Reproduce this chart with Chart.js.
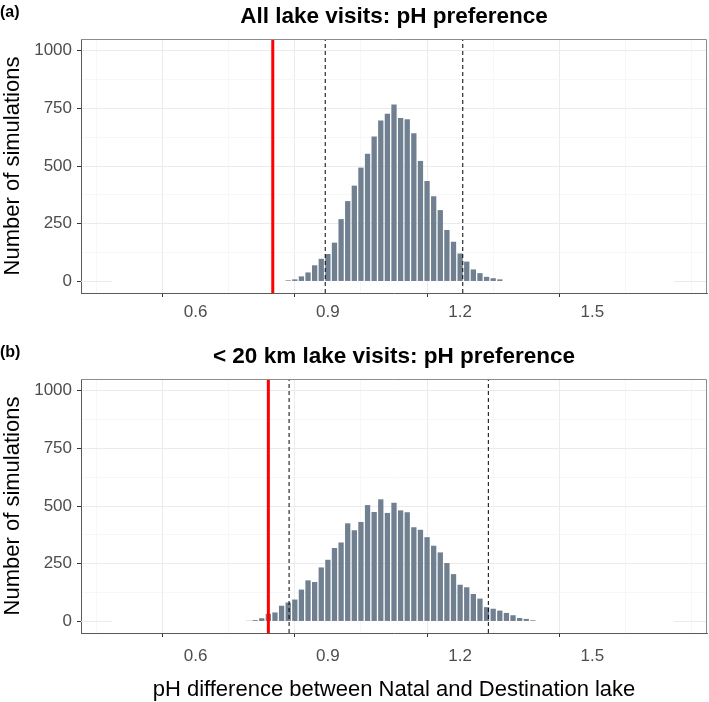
<!DOCTYPE html>
<html>
<head>
<meta charset="utf-8">
<script src="https://cdn.jsdelivr.net/npm/chart.js@4.4.1/dist/chart.umd.min.js"></script>
<style>
  html, body { margin: 0; padding: 0; background: #ffffff; }
  canvas { display: block; }
</style>
</head>
<body>
<canvas id="topChart" width="709" height="340"></canvas>
<canvas id="bottomChart" width="709" height="362"></canvas>
<script>
// ---------- data ----------
const panelTags = ['(a)', '(b)'];
const panelTitles = ['All lake visits: pH preference', '< 20 km lake visits: pH preference'];
const yAxisTitle = 'Number of simulations';
const xAxisTitle = 'pH difference between Natal and Destination lake';

// bin centres (bin width 0.015)
const topBins = [0.81,0.825,0.84,0.855,0.87,0.885,0.9,0.915,0.93,0.945,0.96,0.975,0.99,1.005,1.02,1.035,1.05,1.065,1.08,1.095,1.11,1.125,1.14,1.155,1.17,1.185,1.2,1.215,1.23,1.245,1.26,1.275,1.29];
const topCounts = [5,9,22,39,70,98,119,168,270,348,415,493,553,628,697,726,766,708,703,642,522,435,369,309,223,172,121,86,52,36,20,14,9];

const bottomBins = [0.72,0.735,0.75,0.765,0.78,0.795,0.81,0.825,0.84,0.855,0.87,0.885,0.9,0.915,0.93,0.945,0.96,0.975,0.99,1.005,1.02,1.035,1.05,1.065,1.08,1.095,1.11,1.125,1.14,1.155,1.17,1.185,1.2,1.215,1.23,1.245,1.26,1.275,1.29,1.305,1.32,1.335,1.35,1.365];
const bottomCounts = [3,6,14,33,39,68,82,95,138,178,171,234,267,318,342,425,395,431,504,474,529,470,514,481,473,408,397,365,328,299,253,205,159,148,119,99,62,55,47,37,27,15,11,5];

// observed value (red) and 95% interval (dashed)
const topObserved = 0.775;
const topInterval = [0.894, 1.206];
const bottomObserved = 0.765;
const bottomInterval = [0.812, 1.264];

// axes
const xMin = 0.34, xMax = 1.76;
const yMin = -50, yMax = 1050;
const xTickLabels = [0.6, 0.9, 1.2, 1.5];
const xMinorGrid = [0.45, 0.75, 1.05, 1.35, 1.65];
const yTickLabels = [0, 250, 500, 750, 1000];
const yMinorGrid = [125, 375, 625, 875];
// zero-count baseline visible only outside the (empty) bin range
const zeroLineLeft = [0.34, 0.41];
const zeroLineRight = [1.685, 1.76];

// ---------- chart ----------
const FONT = '"Liberation Sans", Arial, Helvetica, sans-serif';
Chart.defaults.font.family = FONT;

const isMajorX = v => xTickLabels.some(t => Math.abs(t - v) < 1e-9);
const isMajorY = v => yTickLabels.some(t => Math.abs(t - v) < 1e-9);

const deco = {
  id: 'deco',
  afterDraw(chart, args, o) {
    const { ctx, chartArea: a } = chart;
    ctx.save();
    // top / right panel border
    ctx.strokeStyle = '#8c8c8c';
    ctx.lineWidth = 1;
    ctx.beginPath();
    ctx.moveTo(a.left, a.top + 0.5);
    ctx.lineTo(a.right - 0.5, a.top + 0.5);
    ctx.lineTo(a.right - 0.5, a.bottom);
    ctx.stroke();
    ctx.fillStyle = '#000';
    // tag
    ctx.font = 'bold 16px ' + FONT;
    ctx.textAlign = 'left';
    ctx.textBaseline = 'alphabetic';
    ctx.fillText(o.tag, 0, 16.6);
    // title
    ctx.font = 'bold 22.5px ' + FONT;
    ctx.textAlign = 'center';
    ctx.fillText(o.title, (a.left + a.right) / 2, 23);
    // y title
    ctx.font = '22px ' + FONT;
    ctx.fillStyle = '#000';
    ctx.translate(18.5, (a.top + a.bottom) / 2);
    ctx.rotate(-Math.PI / 2);
    ctx.fillText(yAxisTitle, 0, 0);
    ctx.setTransform(1, 0, 0, 1, 0, 0);
    if (o.xTitle) {
      ctx.font = '22px ' + FONT;
      ctx.textAlign = 'center';
      ctx.fillText(o.xTitle, (a.left + a.right) / 2, 355.7);
    }
    ctx.restore();
  }
};

function vline(x, color, width, dash) {
  return {
    type: 'line',
    data: [{ x: x, y: yMin }, { x: x, y: yMax }],
    borderColor: color,
    borderWidth: width,
    borderDash: dash || [],
    pointRadius: 0,
    order: 0
  };
}
function hseg(range) {
  return {
    type: 'line',
    data: [{ x: range[0], y: 0 }, { x: range[1], y: 0 }],
    borderColor: '#ebebeb',
    borderWidth: 1,
    pointRadius: 0,
    order: 3
  };
}

function makeChart(id, bins, counts, observed, interval, idx, withXTitle, xPad) {
  const canvasH = document.getElementById(id).height;
  return new Chart(document.getElementById(id), {
    type: 'bar',
    data: {
      datasets: [
        {
          type: 'bar',
          data: bins.map((b, i) => ({ x: b, y: counts[i] })),
          backgroundColor: '#708090',
          borderWidth: 0,
          barPercentage: 0.8,
          categoryPercentage: 1.0,
          grouped: false,
          order: 1
        },
        hseg(zeroLineLeft),
        hseg(zeroLineRight),
        vline(observed, '#ff0000', 3),
        vline(interval[0], '#000000', 1, [4, 3]),
        vline(interval[1], '#000000', 1, [4, 3])
      ]
    },
    options: {
      responsive: false,
      animation: false,
      devicePixelRatio: 1,
      layout: { padding: { left: 0, right: 2, top: 39, bottom: 0 } },
      plugins: {
        legend: { display: false },
        tooltip: { enabled: false },
        title: { display: false },
        deco: { tag: panelTags[idx], title: panelTitles[idx], xTitle: withXTitle ? xAxisTitle : null }
      },
      scales: {
        x: {
          type: 'linear',
          min: xMin,
          max: xMax,
          offset: false,
          bounds: 'data',
          afterBuildTicks: ax => {
            ax.ticks = xMinorGrid.concat(xTickLabels).sort((p, q) => p - q).map(v => ({ value: v }));
          },
          afterFit: ax => { ax.height = canvasH - 293; },
          ticks: {
            autoSkip: false,
            maxRotation: 0,
            padding: xPad,
            color: '#4d4d4d',
            font: { size: 17 },
            callback: v => isMajorX(v) ? String(v) : ''
          },
          grid: {
            color: c => (c.tick && isMajorX(c.tick.value)) ? '#ebebeb' : '#f4f4f4',
            lineWidth: c => (c.tick && isMajorX(c.tick.value)) ? 1 : 0.7,
            tickColor: c => (c.tick && isMajorX(c.tick.value)) ? '#333333' : 'rgba(0,0,0,0)',
            tickLength: 4,
            tickWidth: 1
          },
          border: { display: true, color: '#5a5a5a', width: 1 }
        },
        y: {
          type: 'linear',
          min: yMin,
          max: yMax,
          bounds: 'data',
          afterBuildTicks: ax => {
            ax.ticks = yMinorGrid.concat(yTickLabels).sort((p, q) => p - q).map(v => ({ value: v }));
          },
          afterFit: ax => { ax.width = 81; },
          ticks: {
            autoSkip: false,
            padding: 5,
            color: '#4d4d4d',
            font: { size: 17 },
            callback: v => isMajorY(v) ? String(v) : ''
          },
          grid: {
            color: c => {
              if (!c.tick) return '#ebebeb';
              if (c.tick.value === 0) return 'rgba(0,0,0,0)';
              return isMajorY(c.tick.value) ? '#ebebeb' : '#f4f4f4';
            },
            lineWidth: c => (c.tick && isMajorY(c.tick.value)) ? 1 : 0.7,
            tickColor: c => (c.tick && isMajorY(c.tick.value)) ? '#333333' : 'rgba(0,0,0,0)',
            tickLength: 4,
            tickWidth: 1
          },
          border: { display: true, color: '#5a5a5a', width: 1 }
        }
      }
    },
    plugins: [deco]
  });
}

makeChart('topChart', topBins, topCounts, topObserved, topInterval, 0, false, 5.5);
makeChart('bottomChart', bottomBins, bottomCounts, bottomObserved, bottomInterval, 1, true, 9);
</script>
</body>
</html>
